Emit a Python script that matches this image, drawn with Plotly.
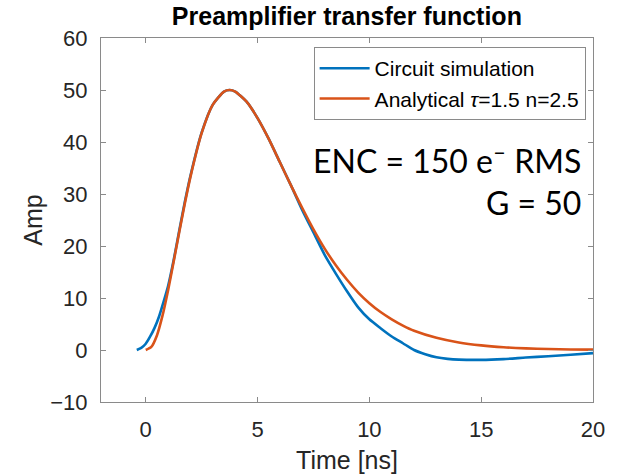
import plotly.graph_objects as go

# Circuit simulation (blue)
t_sim = [-0.4, -0.2, 0.0, 0.2, 0.4, 0.6, 0.8, 1.0, 1.25, 1.5, 1.75, 2.0, 2.5, 3.0, 3.5, 3.75,
         4.0, 4.5, 5.0, 5.5, 6.0, 6.5, 7.0, 7.5, 8.0, 8.5, 9.0, 9.5, 10.0, 10.5, 11.0, 11.5,
         12.0, 12.5, 13.0, 13.5, 14.0, 15.0, 16.0, 17.0, 18.0, 19.0, 20.0]
a_sim = [0.0, 0.4, 1.2, 2.6, 4.3, 6.5, 9.3, 12.3, 17.3, 23.0, 28.5, 33.5, 41.8, 47.2, 49.7, 50.0,
         49.7, 47.8, 44.6, 40.6, 36.1, 31.6, 26.9, 22.6, 18.3, 14.7, 11.3, 8.2, 5.9, 4.2, 2.6, 1.3,
         0.0, -0.8, -1.4, -1.7, -1.85, -1.9, -1.75, -1.45, -1.2, -0.9, -0.6]

# Analytical (orange)
t_ana = [0.0, 0.25, 0.5, 0.75, 1.0, 1.25, 1.5, 1.75, 2.0, 2.5, 3.0, 3.5, 3.75, 4.0, 4.5, 5.0,
         5.5, 6.0, 6.5, 7.0, 7.5, 8.0, 8.5, 9.0, 9.5, 10.0, 10.5, 11.0, 11.5, 12.0, 13.0, 14.0,
         15.0, 16.0, 17.0, 18.0, 19.0, 20.0]
a_ana = [0.0, 0.59, 2.8, 6.6, 11.5, 17.0, 22.7, 28.2, 33.3, 41.7, 47.2, 49.7, 50.0, 49.7, 47.8, 44.6,
         40.6, 36.1, 31.6, 27.3, 23.2, 19.5, 16.3, 13.5, 11.05, 9.0, 7.3, 5.9, 4.7, 3.7, 2.35, 1.45,
         0.89, 0.53, 0.32, 0.19, 0.11, 0.07]

x_ticks = [0, 5, 10, 15, 20]
y_ticks = [-10, 0, 10, 20, 30, 40, 50, 60]

BLUE = "#0072BD"
ORANGE = "#D95319"
AXC = "#8a8a8a"
TXT = "#262626"
FONT = "Liberation Sans, Arial, sans-serif"

fig = go.Figure()
fig.add_trace(go.Scatter(x=t_sim, y=a_sim, mode="lines", name="Circuit simulation",
                         line=dict(color=BLUE, width=2.6, shape="spline", smoothing=0.6)))
fig.add_trace(go.Scatter(x=t_ana, y=a_ana, mode="lines", name="Analytical <i>τ</i>=1.5 n=2.5",
                         line=dict(color=ORANGE, width=2.6, shape="spline", smoothing=0.6)))

fig.update_layout(
    width=625, height=476,
    margin=dict(l=101, r=32, t=38, b=74),
    paper_bgcolor="white", plot_bgcolor="white",
    font=dict(family=FONT, color=TXT, size=21),
    title=dict(text="<b>Preamplifier transfer function</b>", x=0.555, xanchor="center",
               y=0.984, yanchor="top", font=dict(family=FONT, size=25, color="black")),
    showlegend=True,
    legend=dict(x=0.985, xanchor="right", y=0.975, yanchor="top",
                bgcolor="white", bordercolor=AXC, borderwidth=1,
                font=dict(family=FONT, size=21, color="black"),
                tracegroupgap=0, itemwidth=50),
    xaxis=dict(range=[-2, 20], tickvals=x_ticks, ticks="inside", ticklen=5, tickcolor=AXC,
               showline=True, linecolor=AXC, linewidth=1, mirror="ticks", showgrid=False,
               zeroline=False, tickfont=dict(size=22, color=TXT), ticklabelstandoff=8,
               automargin=False,
               title=dict(text="Time [ns]", font=dict(size=25, color=TXT), standoff=10)),
    yaxis=dict(range=[-10, 60], tickvals=y_ticks, ticks="inside", ticklen=5, tickcolor=AXC,
               showline=True, linecolor=AXC, linewidth=1, mirror="ticks", showgrid=False,
               zeroline=False, tickfont=dict(size=22, color=TXT), ticklabelstandoff=8,
               automargin=False,
               title=dict(text="Amp", font=dict(size=25, color=TXT), standoff=0)),
    annotations=[
        dict(text="ENC = 150 e<sup>–</sup> RMS<br>G = 50", x=0.98, xref="paper", xanchor="right",
             y=0.61, yref="paper", yanchor="middle", align="right", showarrow=False,
             font=dict(family="Lato, Open Sans, sans-serif", size=32, color="black")),
    ],
)

fig.write_html("out.html")
